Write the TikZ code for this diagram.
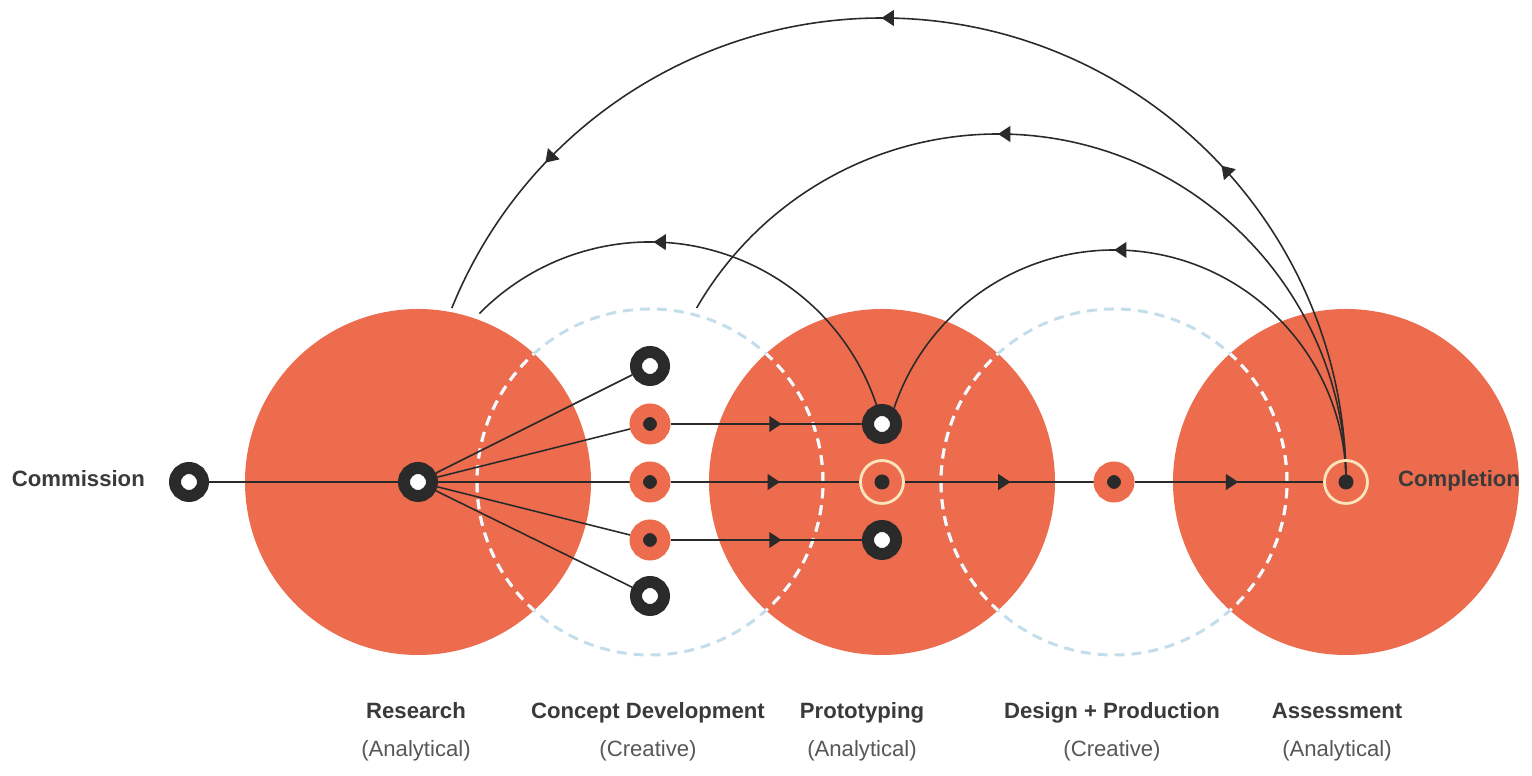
\documentclass[tikz,border=0pt]{standalone}
\usepackage{fontspec}
\setmainfont{Liberation Sans}
\usetikzlibrary{arrows.meta,decorations.markings}

% Colores del esquema
\definecolor{rojo}{RGB}{237,108,78}
\definecolor{anillo}{RGB}{42,42,42}
\definecolor{celeste}{RGB}{196,221,235}
\definecolor{crema}{RGB}{250,228,188}
\definecolor{texto}{RGB}{58,58,58}

% Capas: discos abajo, enlaces en medio, nodos arriba
\pgfdeclarelayer{discos}
\pgfdeclarelayer{enlaces}
\pgfsetlayers{discos,enlaces,main}

\tikzset{
  punta/.tip={Triangle[length=7pt,width=9pt]},
  aro/.style={circle, draw=anillo, fill=white, line width=0.24cm, minimum size=0.56cm, inner sep=0pt},
  punto/.style={circle, draw=rojo, fill=anillo, line width=0.27cm, minimum size=0.55cm, inner sep=0pt},
  meta/.style={circle, draw=crema, line width=1.6pt, minimum size=0.86cm, inner sep=0pt,
    path picture={\fill[anillo] (path picture bounding box.center) circle (0.15cm);}},
  enlace/.style={draw=anillo, line width=0.9pt},
  flechamedia/.style={postaction={decorate, decoration={markings,
    mark=at position #1 with {\arrow{punta}}}}},
  discontinua/.style={line width=1.7pt, dash pattern=on 0.2cm off 0.14cm},
  titulo/.style={anchor=base, text=texto, font=\fontsize{12.6}{15}\selectfont\bfseries},
  subtitulo/.style={anchor=base, text=texto!85, font=\fontsize{12.6}{15}\selectfont}
}

\begin{document}
\begin{tikzpicture}[x=0.02cm, y=0.02cm]

        % Radio de las fases y separacion entre centros
        \pgfmathsetmacro{\radio}{173}
        \pgfmathsetmacro{\paso}{232}

        % Marco fijo del dibujo
        \useasboundingbox (0,-294) rectangle (1532,482);

        \begin{pgfonlayer}{discos}
        % Fases analiticas: discos rellenos
        \fill[rojo] (418,0) circle (\radio);
        \fill[rojo] (418+2*\paso,0) circle (\radio);
        \fill[rojo] (418+4*\paso,0) circle (\radio);

        % Fases creativas: circulos discontinuos
        \draw[celeste, discontinua] (418+\paso,0) circle (\radio);
        \draw[celeste, discontinua] (418+3*\paso,0) circle (\radio);

        % Dentro de los discos el trazo discontinuo se ve claro
        \begin{scope}
          \clip (418,0) circle (\radio) (418+2*\paso,0) circle (\radio) (418+4*\paso,0) circle (\radio);
          \draw[white!85!celeste, discontinua] (418+\paso,0) circle (\radio);
          \draw[white!85!celeste, discontinua] (418+3*\paso,0) circle (\radio);
        \end{scope}
        \end{pgfonlayer}

        % Inicio y punto central de la investigacion
        \node[aro] (encargo) at (189,0) {};
        \node[aro] (investigacion) at (418,0) {};

        % Ideas que salen de la investigacion
        \node[aro] (idea1) at (650,116) {};
        \node[punto] (idea2) at (650,58) {};
        \node[punto] (idea3) at (650,0) {};
        \node[punto] (idea4) at (650,-58) {};
        \node[aro] (idea5) at (650,-114) {};

        % Prototipos
        \node[aro] (proto1) at (882,58) {};
        \node[meta] (proto2) at (882,0) {};
        \node[aro] (proto3) at (882,-58) {};

        % Diseno y evaluacion final
        \node[punto] (diseno) at (1114,0) {};
        \node[meta] (evaluacion) at (1346,0) {};

        \begin{pgfonlayer}{enlaces}
        % Linea principal y abanico de ideas
        \draw[enlace] (encargo) -- (investigacion);
        \draw[enlace] (investigacion) -- (idea1);
        \draw[enlace] (investigacion) -- (idea2);
        \draw[enlace] (investigacion) -- (idea3);
        \draw[enlace] (investigacion) -- (idea4);
        \draw[enlace] (investigacion) -- (idea5);

        % Avance hacia la derecha
        \draw[enlace, flechamedia=0.58] (idea2) -- (proto1);
        \draw[enlace, flechamedia=0.58] (idea3) -- (proto2);
        \draw[enlace, flechamedia=0.58] (idea4) -- (proto3);
        \draw[enlace, flechamedia=0.56] (proto2) -- (diseno);
        \draw[enlace, flechamedia=0.55] (diseno) -- (evaluacion);

        % Retornos: arcos centrados en las fases
        \draw[enlace, flechamedia=0.272, flechamedia=0.57, flechamedia=0.864]
          (evaluacion.center) arc[start angle=0, end angle=158, radius=464];
        \draw[enlace, flechamedia=0.6]
          (evaluacion.center) arc[start angle=0, end angle=150, radius=348];
        \draw[enlace, flechamedia=0.542]
          (evaluacion.center) arc[start angle=0, end angle=166, radius=232];
        \draw[enlace, flechamedia=0.619]
          (proto1.center) arc[start angle=13.8, end angle=135.5, radius=239];
        \end{pgfonlayer}

        % Extremos
        \node[titulo, anchor=base east] (tencargo) at (151,-5) {Commission};
        \node[titulo, anchor=base west] (tfin) at (1392,-5) {Completion};

        % Nombres de las fases
        \node[titulo] (t1) at (416,-237) {Research};
        \node[subtitulo] (s1) at (416,-275) {(Analytical)};
        \node[titulo] (t2) at (648,-237) {Concept Development};
        \node[subtitulo] (s2) at (648,-275) {(Creative)};
        \node[titulo] (t3) at (862,-237) {Prototyping};
        \node[subtitulo] (s3) at (862,-275) {(Analytical)};
        \node[titulo] (t4) at (1112,-237) {Design + Production};
        \node[subtitulo] (s4) at (1112,-275) {(Creative)};
        \node[titulo] (t5) at (1337,-237) {Assessment};
        \node[subtitulo] (s5) at (1337,-275) {(Analytical)};

    \end{tikzpicture}
\end{document}
